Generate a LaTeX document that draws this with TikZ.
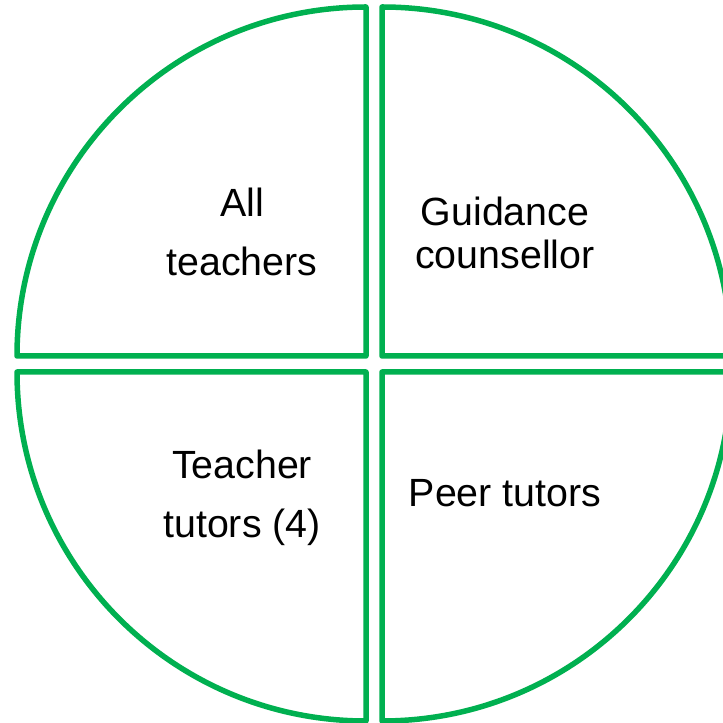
\documentclass[tikz,border=0pt]{standalone}
\usepackage{fontspec}
\setmainfont{Liberation Sans}
\usepackage{tikz}
\usetikzlibrary{positioning}
\definecolor{slidegreen}{RGB}{0,176,80}

\begin{document}
\begin{tikzpicture}[x=1bp,y=1bp]
			\tikzstyle{Quarter}	= [draw=slidegreen, line width=5.5bp, line join=round, fill=white]
			\tikzstyle{Caption}	= [align=center, inner sep=0pt, font=\fontsize{39.5}{59}\selectfont]
			\tikzstyle{Tight}	= [font=\fontsize{39.5}{44}\selectfont]
			
			\useasboundingbox (0,0) rectangle (723,723);
			\clip (0,0) rectangle (723,723);
			
			\coordinate (tl) at (366,367);
			\coordinate (tr) at (382,367);
			\coordinate (bl) at (366,351);
			\coordinate (br) at (382,351);
			
			\draw [Quarter] (tl) -- ++(-349,0) arc [start angle=180, end angle=90, radius=349] -- cycle;
			\draw [Quarter] (tr) -- ++(0,349) arc [start angle=90, end angle=0, radius=349] -- cycle;
			\draw [Quarter] (bl) -- ++(0,-349) arc [start angle=270, end angle=180, radius=349] -- cycle;
			\draw [Quarter] (br) -- ++(349,0) arc [start angle=0, end angle=-90, radius=349] -- cycle;
			
			\node (all) at (242,491) [Caption] {All\\teachers};
			\node (guide) at (505,490) [Caption][Tight] {Guidance\\counsellor};
			\node (tutor) at (242,225) [Caption] {Teacher\\tutors (4)};
			\node (peer) at (505,230) [Caption] {Peer tutors};
		\end{tikzpicture}
\end{document}
